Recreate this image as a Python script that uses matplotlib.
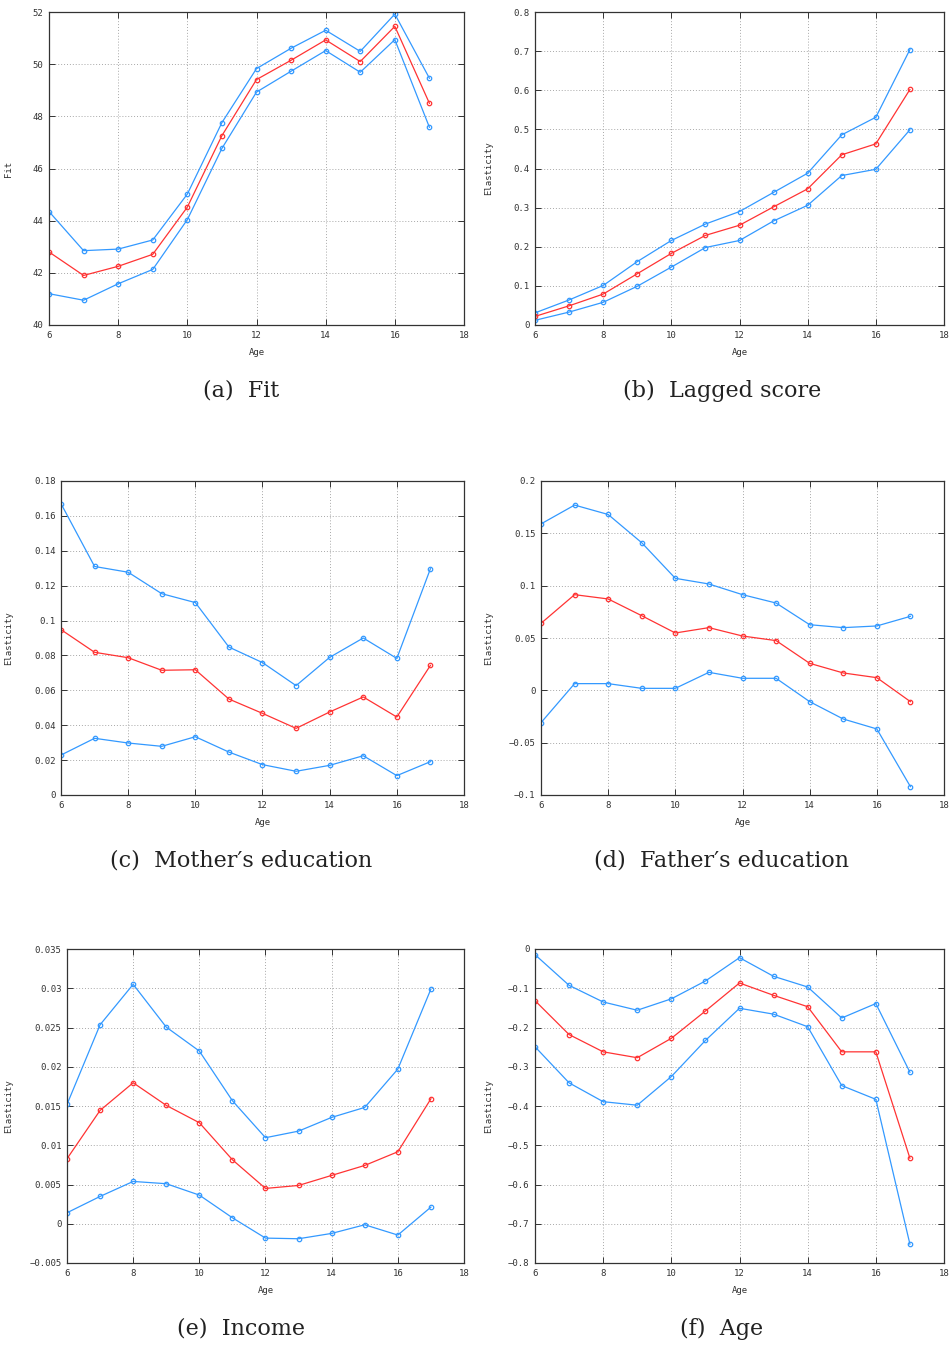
import matplotlib
matplotlib.use("Agg")
import matplotlib.pyplot as plt

ages = [6, 7, 8, 9, 10, 11, 12, 13, 14, 15, 16, 17]

# (a) Fit
fit_hi = [44.35, 42.85, 42.91, 43.26, 45.02, 47.76, 49.83, 50.61, 51.30, 50.49, 51.92, 49.46]
fit_mid = [42.80, 41.90, 42.25, 42.71, 44.52, 47.26, 49.41, 50.15, 50.93, 50.10, 51.45, 48.50]
fit_lo = [41.20, 40.95, 41.58, 42.13, 44.04, 46.77, 48.93, 49.73, 50.52, 49.69, 50.94, 47.58]

# (b) Lagged score
lag_hi = [0.031, 0.064, 0.101, 0.162, 0.216, 0.258, 0.290, 0.339, 0.388, 0.486, 0.531, 0.704]
lag_mid = [0.022, 0.049, 0.079, 0.131, 0.183, 0.229, 0.255, 0.302, 0.348, 0.435, 0.463, 0.602]
lag_lo = [0.012, 0.033, 0.058, 0.099, 0.148, 0.198, 0.216, 0.266, 0.306, 0.382, 0.398, 0.499]

# (c) Mother's education
mom_hi = [0.167, 0.131, 0.1277, 0.1154, 0.1103, 0.0848, 0.0759, 0.0627, 0.0789, 0.0900, 0.0783, 0.1297]
mom_mid = [0.0948, 0.0818, 0.0787, 0.0715, 0.0718, 0.0550, 0.0468, 0.0382, 0.0476, 0.0562, 0.0447, 0.0743]
mom_lo = [0.0229, 0.0325, 0.0298, 0.0279, 0.0334, 0.0246, 0.0174, 0.0136, 0.0170, 0.0225, 0.0111, 0.0191]

# (d) Father's education
dad_hi = [0.159, 0.177, 0.168, 0.141, 0.107, 0.1016, 0.0914, 0.0834, 0.0627, 0.0599, 0.0615, 0.0707]
dad_mid = [0.064, 0.0914, 0.0873, 0.0713, 0.0548, 0.0599, 0.0519, 0.0475, 0.0258, 0.0166, 0.0121, -0.0108]
dad_lo = [-0.0309, 0.0064, 0.0064, 0.0019, 0.0019, 0.0172, 0.0115, 0.0115, -0.0108, -0.0274, -0.0369, -0.092]

# (e) Income
inc_hi = [0.0152, 0.02535, 0.0305, 0.02505, 0.0220, 0.01567, 0.01096, 0.0118, 0.01355, 0.01482, 0.0197, 0.0299]
inc_mid = [0.00828, 0.01444, 0.01796, 0.01508, 0.01287, 0.00815, 0.0045, 0.00488, 0.00616, 0.00743, 0.00917, 0.01592]
inc_lo = [0.0014, 0.00348, 0.00539, 0.0051, 0.00365, 0.00076, -0.00183, -0.00191, -0.00123, -0.00013, -0.00144, 0.00212]

# (f) Age
age_hi = [-0.0144, -0.0926, -0.135, -0.156, -0.127, -0.0815, -0.0221, -0.0696, -0.0968, -0.1758, -0.139, -0.314]
age_mid = [-0.1316, -0.218, -0.262, -0.277, -0.2276, -0.158, -0.0866, -0.118, -0.147, -0.262, -0.262, -0.533]
age_lo = [-0.249, -0.341, -0.389, -0.398, -0.325, -0.233, -0.151, -0.166, -0.198, -0.348, -0.383, -0.752]

panels = [
    ("(a)  Fit", "Fit", (fit_hi, fit_mid, fit_lo), (40, 52), 2),
    ("(b)  Lagged score", "Elasticity", (lag_hi, lag_mid, lag_lo), (0, 0.8), 0.1),
    ("(c)  Mother\u2032s education", "Elasticity", (mom_hi, mom_mid, mom_lo), (0, 0.18), 0.02),
    ("(d)  Father\u2032s education", "Elasticity", (dad_hi, dad_mid, dad_lo), (-0.1, 0.2), 0.05),
    ("(e)  Income", "Elasticity", (inc_hi, inc_mid, inc_lo), (-0.005, 0.035), 0.005),
    ("(f)  Age", "Elasticity", (age_hi, age_mid, age_lo), (-0.8, 0), 0.1),
]

# axes boxes in pixels: left, top, right, bottom
boxes = [
    (49, 12, 464, 325), (535, 12, 944, 325),
    (61, 481, 464, 795), (541, 481, 944, 795),
    (67, 949, 464, 1263), (535, 949, 944, 1263),
]

W, H = 953, 1348
BLUE = "#3399ff"
RED = "#ff3333"
INK = "#333333"
TICK_FONT = "DejaVu Sans Mono"

fig = plt.figure(figsize=(W / 100, H / 100), dpi=100)

for (caption, ylabel, series, ylim, step), (l, t, r, b) in zip(panels, boxes):
    ax = fig.add_axes([l / W, 1 - b / H, (r - l) / W, (b - t) / H])
    hi, mid, lo = series
    for ys, col in ((hi, BLUE), (lo, BLUE), (mid, RED)):
        ax.plot(ages, ys, color=col, lw=0.9, marker="o", ms=3.2,
                mfc="none", mec=col, mew=0.9)

    ax.set_xlim(6, 18)
    ax.set_ylim(*ylim)
    ax.set_xticks(range(6, 19, 2))
    n = int(round((ylim[1] - ylim[0]) / step))
    yt = [round(ylim[0] + i * step, 6) for i in range(n + 1)]
    ax.set_yticks(yt)
    ax.set_yticklabels(["{:g}".format(v).replace("-", "\u2212") for v in yt])

    ax.grid(True, ls=(0, (1, 2)), color="#a8a8a8", lw=0.7)
    ax.tick_params(direction="in", top=True, right=True, length=4,
                   width=0.7, colors=INK, labelsize=6.5, pad=4)
    for lab in ax.get_xticklabels() + ax.get_yticklabels():
        lab.set_family(TICK_FONT)
    for sp in ax.spines.values():
        sp.set_color(INK)
        sp.set_linewidth(0.9)

    col_x = 0 if l < 480 else 480
    ax.set_xlabel("Age", family=TICK_FONT, fontsize=6.5, color=INK, labelpad=6)
    ax.set_ylabel(ylabel, family=TICK_FONT, fontsize=6.5, color=INK)
    ax.yaxis.set_label_coords((col_x + 13 - l) / (r - l), 0.5)

    cx = 241 if col_x == 0 else 722
    fig.text(cx / W, 1 - (b + 66) / H, caption, ha="center", va="center",
             family="DejaVu Serif", fontsize=16, color="#222222")

fig.savefig("out.png", dpi=100)
